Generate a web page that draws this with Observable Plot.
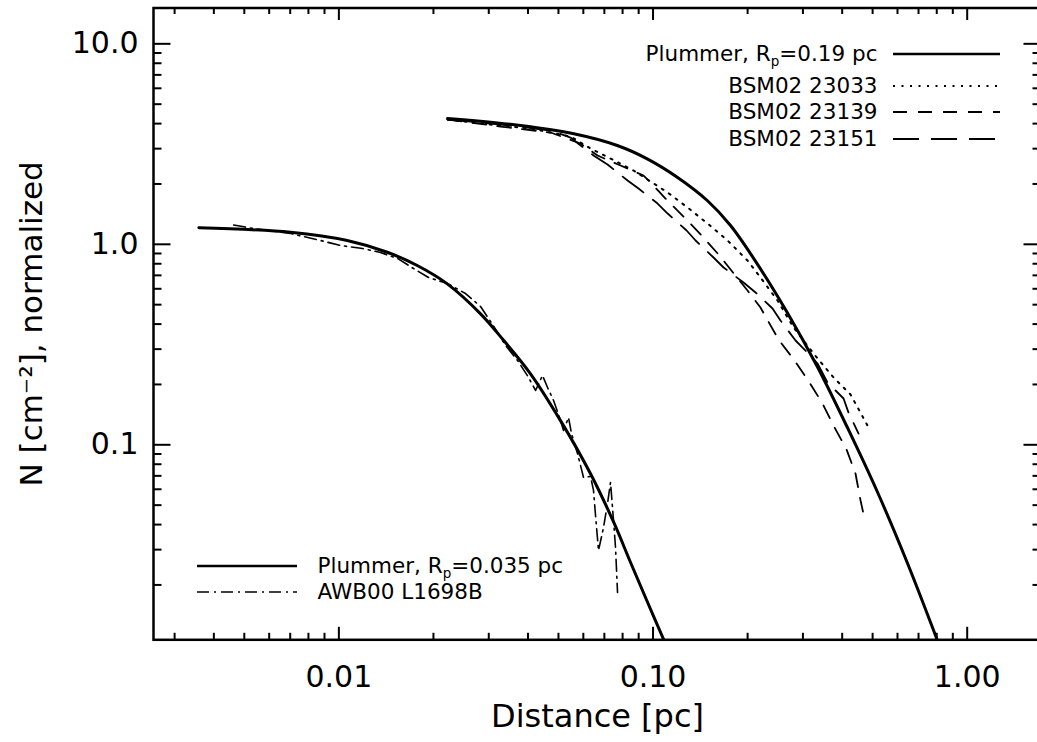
<!DOCTYPE html>
<html><head><meta charset="utf-8">
<script src="https://cdn.jsdelivr.net/npm/d3@7"></script>
<script src="https://cdn.jsdelivr.net/npm/@observablehq/plot@0.6"></script>
<style>
html,body{margin:0;padding:0;background:#fff;overflow:hidden;}
#chart{width:1037px;height:742px;overflow:hidden;}
#chart svg{max-width:none !important;}
</style></head><body><div id="chart"></div>
<script>
// ---- data: [distance pc, normalized column density] ----
const plummer035 = [[0.003584,1.209],[0.00702,1.149],[0.01063,1.045],[0.01426,0.913],[0.01776,0.784],[0.02213,0.635],[0.02825,0.450],[0.0335,0.331],[0.04074,0.226],[0.05076,0.132],[0.06325,0.0717],[0.0750,0.04098],[0.08482,0.02588],[0.09583,0.01653],[0.1082,0.01065]];
const plummer019 = [[0.02218,4.241],[0.03787,3.913],[0.05596,3.557],[0.07692,3.110],[0.09583,2.669],[0.1194,2.161],[0.1488,1.654],[0.1765,1.241],[0.2146,0.7991],[0.2674,0.4570],[0.3332,0.2458],[0.4151,0.1224],[0.5171,0.05848],[0.6442,0.02588],[0.8025,0.01065]];
const bsm23033 = [[0.02218,4.193],[0.0304,3.958],[0.04074,3.781],[0.05462,3.449],[0.06325,3.005],[0.07323,2.679],[0.08667,2.334],[0.1113,1.813],[0.1288,1.526],[0.1491,1.270],[0.1726,1.045],[0.1999,0.830],[0.2198,0.683],[0.2490,0.5244],[0.2801,0.3846],[0.3242,0.2853],[0.3754,0.2167],[0.4252,0.1782],[0.4816,0.1248]];
const bsm23139 = [[0.02218,4.193],[0.03271,3.868],[0.04719,3.611],[0.05878,3.182],[0.06658,2.773],[0.07882,2.472],[0.09328,2.203],[0.09818,2.033],[0.1096,1.692],[0.125,1.376],[0.1438,1.094],[0.1616,0.8894],[0.1999,0.5882],[0.2198,0.4840],[0.2508,0.3351],[0.2821,0.2633],[0.3148,0.2045],[0.3463,0.1607],[0.3782,0.1220],[0.4130,0.0948],[0.4410,0.0719],[0.4576,0.0528],[0.4710,0.0429]];
const bsm23151 = [[0.02218,4.193],[0.03271,3.958],[0.04719,3.695],[0.05462,3.409],[0.06465,2.773],[0.07164,2.500],[0.08295,2.081],[0.08992,1.898],[0.1034,1.597],[0.1113,1.424],[0.1279,1.172],[0.1366,1.045],[0.1558,0.8594],[0.1677,0.7663],[0.1941,0.6448],[0.2120,0.5748],[0.2401,0.4784],[0.2545,0.4169],[0.2842,0.3313],[0.3013,0.3021],[0.3339,0.2543],[0.3593,0.2045],[0.4040,0.1702],[0.4190,0.1449],[0.4510,0.1138]];
const awb00 = [[0.004624,1.248],[0.005353,1.199],[0.00702,1.132],[0.008745,1.045],[0.01012,0.986],[0.0119,0.953],[0.01357,0.910],[0.01538,0.850],[0.01729,0.757],[0.01930,0.683],[0.02218,0.637],[0.02530,0.568],[0.02825,0.4895],[0.03085,0.398],[0.03393,0.3129],[0.03705,0.2633],[0.04016,0.2167],[0.04227,0.1866],[0.04449,0.2217],[0.04616,0.1931],[0.04824,0.1663],[0.05076,0.1322],[0.05189,0.1178],[0.05383,0.1368],[0.05502,0.1138],[0.05749,0.0905],[0.06009,0.0687],[0.06325,0.0695],[0.06465,0.0592],[0.06561,0.0444],[0.06706,0.0297],[0.06957,0.0387],[0.07164,0.0510],[0.07323,0.0649],[0.07486,0.0419],[0.07597,0.0307],[0.07709,0.01834]];

// ---- axes ----
const xDomain = [0.00257, 1.724];
const yDomain = [0.01065, 15.09];
const xMajor = [0.01, 0.1, 1];
const xTickLabels = ["0.01", "0.10", "1.00"];
const xMinor = [0.003,0.004,0.005,0.006,0.007,0.008,0.009,0.02,0.03,0.04,0.05,0.06,0.07,0.08,0.09,0.2,0.3,0.4,0.5,0.6,0.7,0.8,0.9];
const yMajor = [0.1, 1, 10];
const yTickLabels = ["0.1", "1.0", "10.0"];
const yMinor = [0.02,0.03,0.04,0.05,0.06,0.07,0.08,0.09,0.2,0.3,0.4,0.5,0.6,0.7,0.8,0.9,2,3,4,5,6,7,8,9];
const xTitle = "Distance [pc]";
const yTitle = "N [cm\u207B\u00B2], normalized";

// ---- legends ----
const legendRightLabels = ["Plummer, Rp=0.19 pc", "BSM02 23033", "BSM02 23139", "BSM02 23151"];
const legendLeftLabels = ["Plummer, Rp=0.035 pc", "AWB00 L1698B"];

// ---- layout / styles ----
const W = 1046, H = 742;
const mL = 153, mR = 5, mT = 7.5, mB = 102.7;
const plotW = W - mL - mR, plotH = H - mT - mB;
const FONT = "'DejaVu Sans', 'Liberation Sans', sans-serif";
const styles = {
  plummer: {strokeWidth: 3, dash: null},
  dotted: {strokeWidth: 2, dash: "2 6.5"},
  short: {strokeWidth: 1.8, dash: "14 11"},
  long: {strokeWidth: 1.8, dash: "26 12"},
  dashdot: {strokeWidth: 1.6, dash: "12 5 2 5"}
};
const rightRowsY = [54, 86, 112, 139];
const leftRowsY = [566, 592];

const lineOpts = (st, curve) => ({x: d => d[0], y: d => d[1], stroke: "black", strokeWidth: st.strokeWidth,
  strokeDasharray: st.dash || undefined, curve: curve || "linear", clip: true, strokeLinejoin: "round"});

const marks = [
  Plot.line(awb00, lineOpts(styles.dashdot)),
  Plot.line(bsm23033, lineOpts(styles.dotted)),
  Plot.line(bsm23139, lineOpts(styles.short)),
  Plot.line(bsm23151, lineOpts(styles.long)),
  Plot.line(plummer035, lineOpts(styles.plummer, "catmull-rom")),
  Plot.line(plummer019, lineOpts(styles.plummer, "catmull-rom")),
  Plot.frame({stroke: "black", strokeWidth: 2.5}),
  // bottom / top ticks
  Plot.tickX(xMajor, {x: d => d, insetTop: plotH - 12.5, strokeWidth: 2}),
  Plot.tickX(xMinor, {x: d => d, insetTop: plotH - 6.5, strokeWidth: 2}),
  Plot.tickX(xMajor, {x: d => d, insetBottom: plotH - 12.5, strokeWidth: 2}),
  Plot.tickX(xMinor, {x: d => d, insetBottom: plotH - 6.5, strokeWidth: 2}),
  // left / right ticks
  Plot.tickY(yMajor, {y: d => d, insetRight: plotW - 17.5, strokeWidth: 2}),
  Plot.tickY(yMinor, {y: d => d, insetRight: plotW - 8.5, strokeWidth: 2}),
  Plot.tickY(yMajor, {y: d => d, insetLeft: plotW - 17.5, strokeWidth: 2}),
  Plot.tickY(yMinor, {y: d => d, insetLeft: plotW - 8.5, strokeWidth: 2}),
  // tick labels
  Plot.text(xMajor, {x: d => d, text: (d, i) => xTickLabels[i], frameAnchor: "bottom", lineAnchor: "middle", textAnchor: "middle", dy: 38, fontSize: 30, fill: "black"}),
  Plot.text(yMajor, {y: d => d, text: (d, i) => yTickLabels[i], frameAnchor: "left", lineAnchor: "middle", dx: -15, textAnchor: "end", fontSize: 30, fill: "black"}),
  // axis titles
  Plot.text([xTitle], {text: d => d, frameAnchor: "bottom", lineAnchor: "middle", textAnchor: "middle", dy: 77, fontSize: 32, fill: "black"}),
  Plot.text([yTitle], {text: d => d, frameAnchor: "left", lineAnchor: "middle", textAnchor: "middle", dx: -121, rotate: -90, fontSize: 31, fill: "black"}),
  // legend labels
  ...legendRightLabels.map((lab, i) => Plot.text([lab], {text: d => d, frameAnchor: "top-right", lineAnchor: "middle", dx: -164, dy: rightRowsY[i] - mT, textAnchor: "end", fontSize: 21.5, fill: "black"})),
  ...legendLeftLabels.map((lab, i) => Plot.text([lab], {text: d => d, frameAnchor: "bottom-left", lineAnchor: "middle", dx: 164, dy: leftRowsY[i] - (H - mB), textAnchor: "start", fontSize: 21.5, fill: "black"}))
];

const chart = Plot.plot({
  width: W, height: H,
  marginLeft: mL, marginRight: mR, marginTop: mT, marginBottom: mB,
  x: {type: "log", domain: xDomain, axis: null},
  y: {type: "log", domain: yDomain, axis: null},
  style: {fontFamily: FONT, background: "white", color: "black", maxWidth: "none"},
  marks
});
chart.style.maxWidth = "none";
chart.setAttribute("width", W);
chart.setAttribute("height", H);

// subscript p in "Rp"
const NS = "http://www.w3.org/2000/svg";
chart.querySelectorAll("text").forEach(el => {
  const t = el.textContent;
  if (t.includes("Rp=")) {
    const [a, b] = t.split("Rp=");
    while (el.firstChild) el.removeChild(el.firstChild);
    el.appendChild(document.createTextNode(a + "R"));
    const s1 = document.createElementNS(NS, "tspan");
    s1.setAttribute("dy", "4.5"); s1.setAttribute("font-size", "13.5"); s1.textContent = "p";
    el.appendChild(s1);
    const s2 = document.createElementNS(NS, "tspan");
    s2.setAttribute("dy", "-4.5"); s2.textContent = "=" + b;
    el.appendChild(s2);
  }
});

// legend key lines
const svg = d3.select(chart);
const g = svg.append("g").attr("stroke", "black").attr("fill", "none");
const rightKeys = [styles.plummer, styles.dotted, styles.short, styles.long];
rightKeys.forEach((st, i) => {
  g.append("line").attr("x1", W - mR - 148).attr("x2", W - mR - 41)
    .attr("y1", rightRowsY[i]).attr("y2", rightRowsY[i])
    .attr("stroke-width", st === styles.plummer ? 2.5 : st.strokeWidth)
    .attr("stroke-dasharray", st.dash);
});
const leftKeys = [styles.plummer, styles.dashdot];
leftKeys.forEach((st, i) => {
  g.append("line").attr("x1", mL + 44).attr("x2", mL + 144)
    .attr("y1", leftRowsY[i]).attr("y2", leftRowsY[i])
    .attr("stroke-width", st === styles.plummer ? 2.5 : st.strokeWidth)
    .attr("stroke-dasharray", st.dash);
});

document.getElementById("chart").appendChild(chart);
</script>
</body></html>
